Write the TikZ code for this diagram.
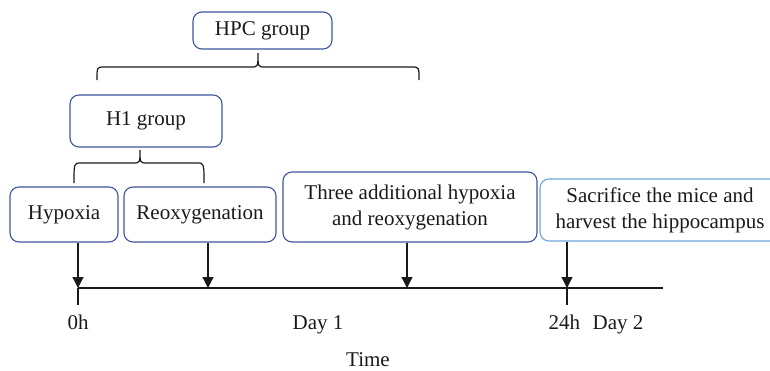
\documentclass[tikz,border=0pt]{standalone}
\usepackage{fontspec}
\setmainfont{Liberation Serif}
\usetikzlibrary{arrows.meta}
\definecolor{boxblue}{HTML}{3F55A0}
\definecolor{lightblue}{HTML}{6FA3DA}
\definecolor{ink}{HTML}{1A1A1A}
\begin{document}
\begin{tikzpicture}[x=1pt,y=-1pt,
  every node/.style={font=\fontsize{21}{26}\selectfont, text=ink},
  stagebox/.style={draw=boxblue, line width=1.1pt, rounded corners=9pt, inner sep=2pt, align=center},
  lightbox/.style={stagebox, draw=lightblue},
  brace/.style={draw=ink, line width=1.2pt},
  timearrow/.style={draw=ink, line width=1.2pt, -{Triangle[length=11pt,width=11pt]}},
  axis/.style={draw=ink, line width=1.2pt},
  lbl/.style={anchor=base}]
\useasboundingbox (0,0) rectangle (770,370);
\clip (0,0) rectangle (770,370);
% boxes
\node[stagebox, minimum width=139pt, minimum height=37pt] (hpc) at (262.5,30.5) {HPC group};
\node[stagebox, minimum width=152pt, minimum height=52pt] (h1) at (146,121) {H1 group};
\node[stagebox, minimum width=108pt, minimum height=55pt] (hyp) at (64,214.5) {Hypoxia};
\node[stagebox, minimum width=152pt, minimum height=55pt] (reox) at (200,214.5) {Reoxygenation};
\node[stagebox, minimum width=254pt, minimum height=70pt] (three) at (410,207) {Three additional hypoxia\\and reoxygenation};
\node[lightbox, minimum width=240pt, minimum height=62pt] (sacr) at (660,210) {Sacrifice the mice and\\harvest the hippocampus};
% braces
\draw[brace] (97,80) .. controls (97,67) .. (104,67) -- (251,67)
  .. controls (258,67) .. (258,53) .. controls (258,67) .. (265,67)
  -- (412,67) .. controls (419,67) .. (419,80);
\draw[brace] (74,183) .. controls (74,163) .. (81,163) -- (133,163)
  .. controls (140,163) .. (140,150) .. controls (140,163) .. (147,163)
  -- (197,163) .. controls (204,163) .. (204,183);
% timeline
\coordinate (t0) at (78,288);
\coordinate (t1) at (208,288);
\coordinate (t2) at (407,288);
\coordinate (t3) at (567,288);
\coordinate (tend) at (663,288);
\coordinate (t0b) at (78,305);
\coordinate (t3b) at (567,305);
\draw[axis] (t0) -- (tend);
\draw[axis] (t0) -- (t0b);
\draw[axis] (t3) -- (t3b);
\draw[timearrow] (t0 |- hyp.south) -- (t0);
\draw[timearrow] (t1 |- reox.south) -- (t1);
\draw[timearrow] (t2 |- three.south) -- (t2);
\draw[timearrow] (t3 |- sacr.south) -- (t3);
% labels
\node[lbl] (l0) at (78,329) {0h};
\node[lbl] (l1) at (318,329) {Day 1};
\node[lbl] (l2) at (596,329) {24h\hspace{0.6em}Day 2};
\node[lbl] (lt) at (368,366) {Time};
\end{tikzpicture}
\end{document}
